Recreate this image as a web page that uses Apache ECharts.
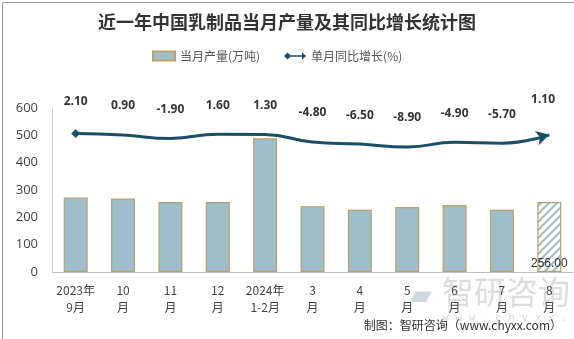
<!DOCTYPE html>
<html><head><meta charset="utf-8">
<script src="https://cdn.jsdelivr.net/npm/echarts@6/dist/echarts.min.js"></script>
<style>html,body{margin:0;padding:0;background:#fff}#c{width:574px;height:339px}</style>
</head><body><div id="c"></div>
<script>
var categories = ['2023年\n9月','10\n月','11\n月','12\n月','2024年\n1-2月','3\n月','4\n月','5\n月','6\n月','7\n月','8\n月'];
var output = [273, 269, 256, 256, 489, 241, 228, 238, 245, 228, 256];
var growth = [2.10, 0.90, -1.90, 1.60, 1.30, -4.80, -6.50, -8.90, -4.90, -5.70, 1.10];
var yTicks = [0, 100, 200, 300, 400, 500, 600];

var cv = document.createElement('canvas'); cv.width = 8; cv.height = 8;
var g = cv.getContext('2d'); g.fillStyle = '#fff'; g.fillRect(0,0,8,8);
g.strokeStyle = '#9fbecb'; g.lineWidth = 2;
g.beginPath(); g.moveTo(0,8); g.lineTo(8,0); g.moveTo(-2,2); g.lineTo(2,-2); g.moveTo(6,10); g.lineTo(10,6); g.stroke();

var last = output.length - 1;
var barData = output.map(function(v,i){
  if (i === last) return {value:v, itemStyle:{color:{image:cv,repeat:'repeat'}},
    label:{show:true, position:'insideBottom', distance:2, color:'#333', fontSize:12, formatter:function(p){return p.value.toFixed(2);}}};
  return v;
});
var lineData = growth.map(function(v,i){
  if (i === 0) return {value:v, symbol:'diamond', symbolSize:9};
  if (i === last) return {value:v, symbol:'arrow', symbolSize:[11,13], symbolRotate:-75};
  return {value:v, symbol:'circle', symbolSize:2};
});

var chart = echarts.init(document.getElementById('c'), null, {renderer:'canvas'});
chart.setOption({
  animation:false,
  title:{text:'近一年中国乳制品当月产量及其同比增长统计图', left:'center', top:8,
    textStyle:{fontFamily:'Noto Sans CJK SC', fontSize:18, fontWeight:'bold', color:'#333'}},
  legend:{top:45, left:147, itemGap:24, itemWidth:22, itemHeight:9,
    textStyle:{fontFamily:'Noto Sans CJK SC', fontSize:12, color:'#555'},
    data:[{name:'当月产量(万吨)', icon:'rect'},
          {name:'单月同比增长(%)', icon:'path://M0,5 L5,0 L10,5 L5,10 Z M5,4 L26,4 L26,0 L32,5 L26,10 L26,6 L5,6 Z', itemStyle:{color:'#1b4f67'}}]},
  grid:{left:52, right:1, top:108, bottom:67},
  xAxis:{type:'category', data:categories,
    axisLine:{lineStyle:{color:'#bfbfbf'}}, axisTick:{show:false},
    axisLabel:{interval:0, color:'#444', fontSize:12, lineHeight:17, margin:10, fontFamily:'Noto Sans CJK SC'}},
  yAxis:[{type:'value', min:yTicks[0], max:yTicks[yTicks.length-1], interval:100,
    axisLine:{show:true, lineStyle:{color:'#d0d0d0'}}, axisTick:{show:false}, splitLine:{show:false},
    axisLabel:{color:'#444', fontSize:13, margin:14, fontFamily:'Open Sans'}},
    {type:'value', min:-111, max:23, show:false, splitLine:{show:false}}],
  series:[
    {name:'当月产量(万吨)', type:'bar', data:barData, barWidth:24,
      itemStyle:{color:'#9fbecb', borderColor:'#b9a166', borderWidth:1.2}},
    {name:'单月同比增长(%)', type:'line', yAxisIndex:1, data:lineData, smooth:true, showAllSymbol:true,
      lineStyle:{color:'#1b4f67', width:3}, itemStyle:{color:'#1b4f67'},
      label:{show:true, position:'top', distance:22, color:'#333', fontSize:12, fontWeight:'bold',
        fontFamily:'Open Sans', formatter:function(p){return p.value.toFixed(2);}}}
  ],
  graphic:[
    {type:'rect', left:0, top:0, shape:{width:573, height:338}, style:{fill:'none', stroke:'#9a9a9a', lineWidth:1}, silent:true},
    {type:'text', left:410, top:279, style:{text:'▰', font:'28px "Noto Sans CJK SC"', fill:'rgba(170,185,200,0.55)'}},
    {type:'text', left:442, top:276, style:{text:'智研咨询', font:'32px "Noto Sans CJK SC"', fill:'rgba(175,180,185,0.45)'}},
    {type:'text', left:442, top:313, style:{text:'w w w . c h y x x . c o m', font:'11px "DejaVu Sans Mono"', fill:'rgba(175,180,185,0.5)'}},
    {type:'text', right:12, top:319, style:{text:'制图：智研咨询（www.chyxx.com）', font:'12px "Noto Sans CJK SC"', fill:'#333'}}
  ]
});
</script></body></html>
